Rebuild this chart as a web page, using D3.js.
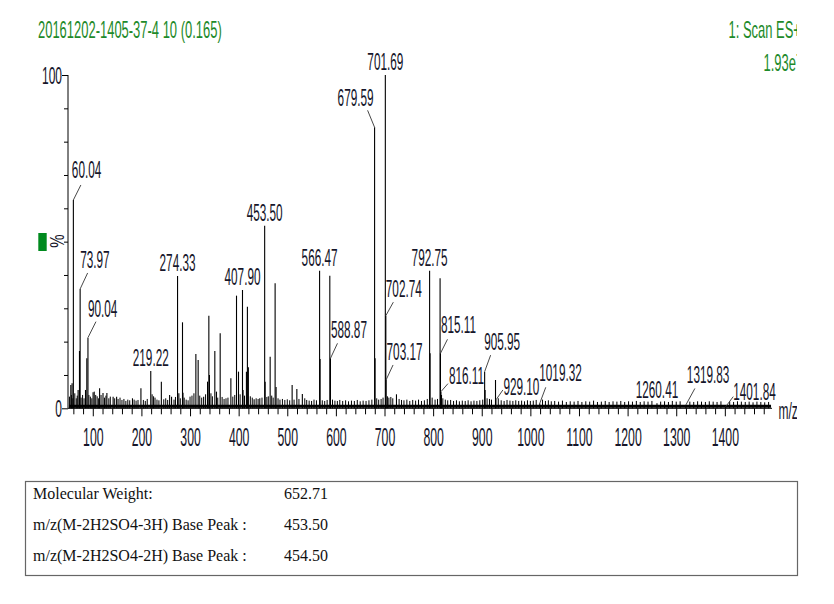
<!DOCTYPE html>
<html><head><meta charset="utf-8">
<script src="https://cdn.jsdelivr.net/npm/d3@7"></script>
<style>
html,body{margin:0;padding:0;background:#fff;}
svg{display:block;}
</style></head>
<body>
<svg id="chart" width="834" height="604"></svg>
<script>
// ---------------- DATA ----------------
const titleText = "20161202-1405-37-4 10 (0.165)";
const scanText = "1: Scan ES+";
const intensityText = "1.93e7";
const xTickValues = [100,200,300,400,500,600,700,800,900,1000,1100,1200,1300,1400];
const yTickValues = [0,10,20,30,40,50,60,70,80,90,100];
const yTickLabels = ["0","100"];

// labelled peaks: m/z and relative intensity (%)
const labelledMz =  [60.04, 73.97, 90.04, 219.22, 274.33, 407.90, 453.50, 566.47, 588.87, 679.59, 701.69, 702.74, 703.17, 792.75, 815.11, 816.11, 905.95, 929.10, 1019.32, 1260.41, 1319.83, 1401.84];
const labelledInt = [62.5,  35.8,  21.2,  11.2,   39.7,   35.5,   54.8,   41.3,   15.0,   84.3,   100,    27.8,   8.5,    41.3,   16.5,   5.0,    11.0,   2.5,    1.5,     1.5,     1.0,     0.5];

// other visible peaks (unlabelled)
const peakMz =  [54.8, 57.4, 69.8, 72.6, 85, 87.7, 100.6, 114, 121, 129, 141.8, 149, 181.6, 199, 241, 258, 262, 277, 284.5, 285.5, 312, 316.7, 328, 336, 338.7, 340, 351, 354.4, 362, 384, 395.6, 399.7, 409, 416, 418, 420, 431.8, 443.5, 454.5, 464.8, 475, 477, 510, 519.7, 531, 567.5, 587.5, 680.6, 724.6, 793.75, 814.3, 817.2, 906.9, 928.3];
const peakInt = [7, 7.5, 5.5, 17.2, 5.5, 15, 4.8, 6, 4.6, 4.6, 3.5, 3.5, 3, 6, 8, 4, 3.5, 4.5, 25.8, 4.7, 16.3, 14.5, 3.5, 8, 27.8, 10, 17.2, 5, 22.5, 9, 33.8, 11, 5.5, 11, 30.5, 12.3, 2.7, 3, 8, 15.5, 37.5, 6.4, 7, 5.8, 4.3, 14.8, 39.8, 15, 4.2, 16.5, 39, 4, 5.5, 8.5];

// baseline noise spikes
const noiseMz = [52,56,59,63,66,68,76,79,82,92,95,98,103,106,109,112,117,124,127,133,136,145,152,156,160,164,168,172,176,185,189,193,204,208,212,222,225,228,232,236,246,250,254,267,270,280,288,292,296,300,304,308,320,324,332,343,346,357,366,370,374,378,388,392,403,412,424,428,436,440,448,458,461,468,471,481,485,490,495,500,505,514,524,536,540,545,550,555,560,572,577,582,593,598,603,608,614,620,626,632,638,644,650,656,662,668,674,684,688,693,697,706,709,713,717,730,735,740,746,752,758,764,770,776,782,788,798,804,809,820,825,830,836,842,848,854,860,866,872,878,884,890,896,902,911,916,920,934,940,946,952,958,964,970,976,982,988,994,1000,1006,1012,1025,1031,1037,1043,1050,1058,1066,1074,1082,1090,1098,1106,1114,1122,1130,1138,1146,1154,1162,1170,1178,1186,1194,1202,1210,1218,1226,1234,1242,1250,1268,1276,1284,1292,1300,1308,1328,1336,1344,1352,1360,1368,1376,1384,1392,1410,1418,1426,1434,1442,1450,1458,1466,1474,1482,1490];
const noiseInt = [3.5,4,3,4.5,3,3.8,3.2,4,3,4,3.5,3,5,4,3.6,3,4,3.2,3.8,3,3.5,3,2.8,3.2,2.5,2.8,2.2,2.6,2.4,2.6,2.3,2.5,2.5,2.2,2.8,4.2,3.6,3.2,2.6,2.4,2.7,3,2.5,2.6,3.4,3,3.2,2.6,2.4,3.5,3.8,4.5,3.8,3.2,4.2,4.5,3.6,3.2,3.4,2.8,3,3.2,3.5,4,4.2,3.8,3.6,3.2,3,2.8,3.2,3.4,3.6,3.8,3.2,3,2.6,2.8,2.5,2.7,2.4,2.6,2.8,3,2.5,2.3,2.2,2.6,2.4,2.4,2.2,2.5,2.6,2.3,2.2,2.5,2.2,2.4,2.1,2.3,2.2,2.5,2.1,2.3,2.2,2.4,2.6,3,2.6,2.8,3.2,3.6,3.2,3.4,3,2.8,2.5,2.4,2.6,2.2,2.5,2.3,2.6,2.2,2.4,2.8,3.2,2.6,2.8,3,2.6,2.4,2.5,2.2,2.4,2.1,2.3,2.2,2.4,2.1,2.3,2.2,2.4,2.6,3,2.8,2.6,3,2.4,2.2,2.5,2.3,2.2,2.4,2.2,2.3,2.1,2.4,2.2,2.3,2.5,2.6,2.2,2.4,2.1,2.2,2.0,2.3,1.9,2.1,2.0,2.2,1.9,2.1,2.0,2.3,1.9,2.0,2.2,1.9,2.1,2.0,2.2,1.9,2.1,2.0,2.2,1.9,2.1,2.0,2.2,2.0,2.1,1.9,2.2,2.0,2.1,2.0,1.9,2.1,2.0,1.9,2.1,2.0,1.9,2.1,2.0,1.9,2.1,2.0,1.9,2.0,1.8,2.0,1.9,1.8,1.9];

// info table
const infoLabels = ["Molecular Weight:", "m/z(M-2H2SO4-3H) Base Peak :", "m/z(M-2H2SO4-2H) Base Peak :"];
const infoValues = ["652.71", "453.50", "454.50"];

// ---------------- LAYOUT ----------------
// label placement (pixel offsets from peak top); direct = centred above
const labelLayout = {
  "60.04":  {dx:-1.5, dy:-22, lx:7.5, ly:-15},
  "73.97":  {dx:0, dy:-21, lx:7.5, ly:-16},
  "90.04":  {dx:0, dy:-21, lx:8, ly:-16},
  "588.87": {dx:0.5, dy:-20.5, lx:7, ly:-15},
  "679.59": {dx:-1, dy:-21, lx:-7, ly:-17, end:true},
  "702.74": {dx:0, dy:-19, lx:7.5, ly:-13.5},
  "703.17": {dx:0.5, dy:-20, lx:7, ly:-15},
  "815.11": {dx:0.5, dy:-20, lx:7, ly:-14},
  "816.11": {dx:8, dy:-8, lx:7, ly:-8},
  "905.95": {dx:-0.5, dy:-21.5, lx:6, ly:-16.5},
  "929.10": {dx:7.5, dy:-5, lx:7, ly:-10},
  "1019.32":{dx:-0.5, dy:-22, lx:6, ly:-16},
  "1319.83":{dx:1, dy:-21.5, lx:9, ly:-16.5},
  "1401.84":{dx:7.5, dy:-6.5, lx:7.5, ly:-10}
};

const svg = d3.select("#chart");
const FONT = "'Liberation Sans', Arial, sans-serif";
const TXT = "#16162a";
const GREEN = "#1e8a2a";

function squeeze(sel, s) {
  sel.each(function() {
    const w = this.getComputedTextLength();
    this.setAttribute("textLength", (w * s).toFixed(2));
    this.setAttribute("lengthAdjust", "spacingAndGlyphs");
  });
  return sel;
}

svg.append("defs").append("clipPath").attr("id", "clipR")
  .append("rect").attr("x", 0).attr("y", 0).attr("width", 797).attr("height", 470);

const g = svg.append("g").attr("clip-path", "url(#clipR)");

const x = d3.scaleLinear().domain([49, 1497]).range([68, 772]);
const y = d3.scaleLinear().domain([0, 100]).range([408.3, 75]);

// title texts
squeeze(g.append("text").attr("x", 38).attr("y", 38).attr("font-family", FONT)
  .attr("font-size", 24).attr("fill", GREEN).text(titleText), 0.54);
squeeze(g.append("text").attr("x", 728.5).attr("y", 38).attr("font-family", FONT)
  .attr("font-size", 24).attr("fill", GREEN).text(scanText), 0.54);
squeeze(g.append("text").attr("x", 763.5).attr("y", 71).attr("font-family", FONT)
  .attr("font-size", 24).attr("fill", GREEN).text(intensityText), 0.54);

// baseline noise band
g.append("line").attr("x1", x(51)).attr("x2", x(1495))
  .attr("y1", y(0.6)).attr("y2", y(0.6))
  .attr("stroke", "#000").attr("stroke-width", 3);

const stickPeaks = (mz, it, sw) => {
  g.append("g").selectAll("line").data(d3.range(mz.length)).join("line")
    .attr("x1", i => x(mz[i])).attr("x2", i => x(mz[i]))
    .attr("y1", y(0)).attr("y2", i => y(it[i]))
    .attr("stroke", "#000").attr("stroke-width", sw);
};
stickPeaks(noiseMz, noiseInt, 1);
stickPeaks(peakMz, peakInt, 1.1);
stickPeaks(labelledMz, labelledInt, 1.1);

// axes
const yAxis = d3.axisLeft(y).tickValues(yTickValues).tickSize(4).tickFormat("");
const ya = g.append("g").attr("transform", "translate(68,0)").call(yAxis);
ya.select(".domain").attr("d", `M0,${y(100)}V${y(0)}`).attr("stroke", "#000");
ya.selectAll(".tick line").attr("stroke", "#000")
  .attr("x2", d => (d === 0 || d === 100) ? -6 : -4);
g.append("g").selectAll("text").data(yTickLabels).join("text")
  .attr("x", 62).attr("y", d => y(+d) + 9)
  .attr("text-anchor", "end").attr("font-family", FONT).attr("font-size", 24)
  .attr("fill", TXT).text(d => d)
  .call(s => squeeze(s, 0.5));

const minorTicks = d3.range(60, 1497, 20).filter(v => v % 100 !== 0);
const xMinor = d3.axisBottom(x).tickValues(minorTicks).tickSize(6).tickFormat("");
const xm = g.append("g").attr("transform", `translate(0,${y(0)})`).call(xMinor);
xm.select(".domain").attr("d", `M68,0H772`).attr("stroke", "#000");
xm.selectAll(".tick line").attr("stroke", "#000");
const xMajor = d3.axisBottom(x).tickValues(xTickValues).tickSize(8).tickPadding(3).tickFormat(d3.format("d"));
const xM = g.append("g").attr("transform", `translate(0,${y(0)})`).call(xMajor);
xM.select(".domain").remove();
xM.selectAll(".tick line").attr("stroke", "#000");
xM.selectAll(".tick text").attr("font-family", FONT).attr("font-size", 25)
  .attr("fill", TXT).attr("dy", null).attr("y", 38)
  .call(s => squeeze(s, 0.49));

// m/z label
squeeze(g.append("text").attr("x", 778.5).attr("y", 419).attr("font-family", FONT)
  .attr("font-size", 24).attr("fill", TXT).text("m/z"), 0.5);

// % label and green marker
g.append("rect").attr("x", 38.3).attr("y", 233).attr("width", 8.4).attr("height", 18)
  .attr("fill", "#008a1e");
squeeze(g.append("text").attr("transform", "translate(63.5,241) rotate(-90)")
  .attr("text-anchor", "middle").attr("font-family", FONT).attr("font-size", 20)
  .attr("fill", TXT).text("%"), 0.75);

// peak labels
const lab = g.append("g");
labelledMz.forEach((m, i) => {
  const px = x(m), py = y(labelledInt[i]);
  const t = m.toFixed(2);
  const L = labelLayout[t];
  let txt;
  if (L) {
    lab.append("line").attr("x1", px).attr("y1", py).attr("x2", px + L.lx).attr("y2", py + L.ly)
      .attr("stroke", "#333").attr("stroke-width", 0.9);
    txt = lab.append("text").attr("x", px + L.dx).attr("y", py + L.dy)
      .attr("text-anchor", L.end ? "end" : "start");
  } else {
    txt = lab.append("text").attr("x", px).attr("y", py - 5).attr("text-anchor", "middle");
  }
  txt.attr("font-family", FONT).attr("font-size", 24).attr("fill", TXT).text(t);
  squeeze(txt, 0.49);
});

// info table
svg.append("rect").attr("x", 25.5).attr("y", 481.5).attr("width", 772).attr("height", 94)
  .attr("fill", "none").attr("stroke", "#666").attr("stroke-width", 1.2);
const rowsY = [499, 530, 561];
svg.append("g").selectAll("text").data(infoLabels).join("text")
  .attr("x", 33).attr("y", (d, i) => rowsY[i])
  .attr("font-family", "'Liberation Serif', 'Times New Roman', serif").attr("font-size", 16)
  .attr("fill", "#111").text(d => d);
svg.append("g").selectAll("text").data(infoValues).join("text")
  .attr("x", 284).attr("y", (d, i) => rowsY[i])
  .attr("font-family", "'Liberation Serif', 'Times New Roman', serif").attr("font-size", 16)
  .attr("fill", "#111").text(d => d);
</script>
</body></html>
